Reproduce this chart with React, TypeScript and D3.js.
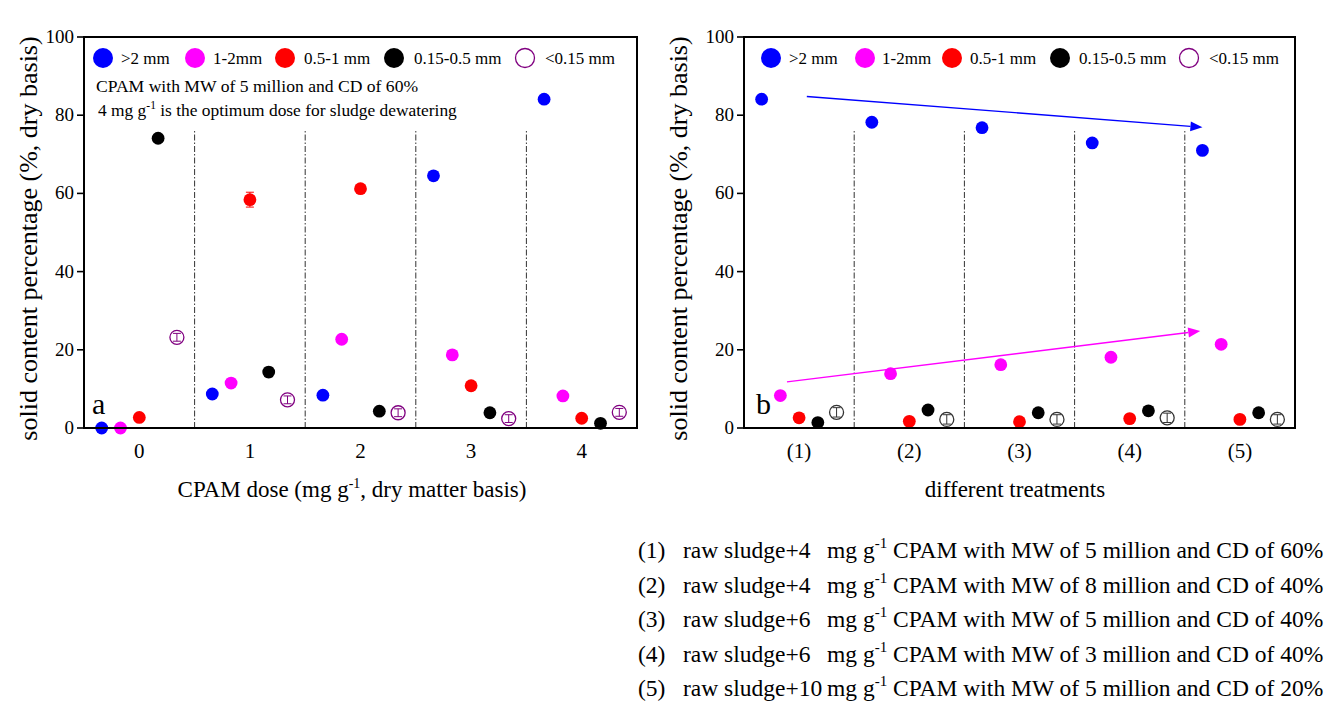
import * as d3 from 'd3'

// particle size classes, shared by both panels
const SIZE_CLASSES = ['>2 mm', '1-2mm', '0.5-1 mm', '0.15-0.5 mm', '<0.15 mm']
const CLASS_COLORS = ['#0000ff', '#ff00ff', '#ff0000', '#000000', '#800080']
const CLASS_OFFSETS = [-0.34, -0.17, 0, 0.17, 0.34]

// panel a: CPAM dose
const DOSES = [0, 1, 2, 3, 4]
const DOSE_VALUES = [
  [0, 8.7, 8.4, 64.5, 84.1],
  [0, 11.5, 22.7, 18.7, 8.2],
  [2.7, 58.4, 61.2, 10.8, 2.5],
  [74.1, 14.3, 4.3, 3.9, 1.2],
  [23.2, 7.2, 3.9, 2.4, 4.0],
]
const DOSE_ERRORS = [
  [0.3, 0.6, 0.5, 0.6, 0.6],
  [0.3, 0.5, 0.6, 0.5, 0.4],
  [0.4, 1.9, 0.8, 0.6, 0.4],
  [0.6, 1.2, 0.6, 0.5, 0.4],
  [1.0, 1.0, 1.0, 1.0, 1.0],
]

// panel b: treatments
const TREATMENTS = ['(1)', '(2)', '(3)', '(4)', '(5)']
const TREATMENT_VALUES = [
  [84.1, 78.2, 76.8, 72.9, 71.0],
  [8.3, 13.9, 16.2, 18.1, 21.4],
  [2.6, 1.7, 1.6, 2.4, 2.2],
  [1.4, 4.6, 3.9, 4.4, 3.9],
  [4.0, 2.2, 2.2, 2.6, 2.2],
]
const TREATMENT_ERRORS = [
  [0.5, 0.6, 0.5, 0.5, 0.5],
  [0.5, 0.5, 0.5, 0.5, 0.5],
  [0.3, 0.3, 0.3, 0.3, 0.3],
  [0.3, 0.4, 0.4, 0.4, 0.4],
  [1.2, 1.2, 1.2, 1.2, 1.2],
]
const TREND_ARROWS = [
  { color: '#0000ff', from: [1.07, 84.8], to: [4.66, 76.9] },
  { color: '#ff00ff', from: [0.89, 11.8], to: [4.64, 24.8] },
]

// footnote for treatments
const TREATMENT_DOSE = ['4', '4', '6', '6', '10']
const TREATMENT_MW = ['5', '8', '5', '3', '5']
const TREATMENT_CD = ['60', '40', '40', '40', '20']

const Y_TICKS = [0, 20, 40, 60, 80, 100]

const FONT = '"Liberation Serif", "Times New Roman", serif'
const TOP = 37
const BOTTOM = 428

function Panel({ left, right, domain, xs, labels, values, errors, openStroke, legendX, letter, letterX, xTitle, xTitleX, yTitleX, arrows, children }) {
  const x = d3.scaleLinear().domain(domain).range([left, right])
  const y = d3.scaleLinear().domain([0, 100]).range([BOTTOM, TOP])
  const seps = d3.pairs(xs).map(([a, b]) => (a + b) / 2)

  return (
    <g fontFamily={FONT}>
      {/* dash-dot group separators */}
      {seps.map((s, i) => (
        <line key={i} x1={x(s)} x2={x(s)} y1={y(0)} y2={y(76)} stroke="#333" strokeWidth={1} strokeDasharray="6,2,1.5,2" />
      ))}

      {/* y ticks */}
      {Y_TICKS.map(t => (
        <g key={t}>
          <line x1={left - 7} x2={left} y1={y(t)} y2={y(t)} stroke="#000" strokeWidth={1.6} />
          <text x={left - 10} y={y(t) + 6} textAnchor="end" fontSize={19}>{t}</text>
        </g>
      ))}
      {labels.map((l, i) => (
        <text key={l} x={x(xs[i])} y={458} textAnchor="middle" fontSize={21}>{l}</text>
      ))}

      {/* points */}
      {SIZE_CLASSES.map((c, k) => (
        <g key={c}>
          {values[k].map((v, i) => {
            const cx = x(xs[i] + CLASS_OFFSETS[k])
            const cy = y(v)
            const e = errors[k][i]
            const col = k === 4 ? openStroke : CLASS_COLORS[k]
            return (
              <g key={i}>
                {k === 4
                  ? <circle cx={cx} cy={cy} r={7} fill="#fff" stroke={col} strokeWidth={1.3} />
                  : <circle cx={cx} cy={cy} r={6.4} fill={col} />}
                <line x1={cx} x2={cx} y1={y(v - e)} y2={y(v + e)} stroke={col} strokeWidth={1} />
                <line x1={cx - 4} x2={cx + 4} y1={y(v + e)} y2={y(v + e)} stroke={col} strokeWidth={1} />
                <line x1={cx - 4} x2={cx + 4} y1={y(v - e)} y2={y(v - e)} stroke={col} strokeWidth={1} />
              </g>
            )
          })}
        </g>
      ))}

      {/* trend arrows */}
      {arrows.map((a, i) => {
        const x1 = x(a.from[0]), y1 = y(a.from[1]), x2 = x(a.to[0]), y2 = y(a.to[1])
        const ang = Math.atan2(y2 - y1, x2 - x1)
        const len = 12, w = 5
        const bx = x2 - len * Math.cos(ang), by = y2 - len * Math.sin(ang)
        const pts = [
          [x2, y2],
          [bx + w * Math.sin(ang), by - w * Math.cos(ang)],
          [bx - w * Math.sin(ang), by + w * Math.cos(ang)],
        ]
        return (
          <g key={i}>
            <line x1={x1} y1={y1} x2={bx} y2={by} stroke={a.color} strokeWidth={1.4} />
            <polygon points={pts.map(p => p.join(',')).join(' ')} fill={a.color} />
          </g>
        )
      })}

      {/* legend */}
      {SIZE_CLASSES.map((c, k) => (
        <g key={c}>
          {k === 4
            ? <circle cx={legendX[k][0]} cy={58} r={9.5} fill="#fff" stroke={CLASS_COLORS[4]} strokeWidth={1.3} />
            : <circle cx={legendX[k][0]} cy={58} r={10} fill={CLASS_COLORS[k]} />}
          <text x={legendX[k][1]} y={64} fontSize={17}>{c}</text>
        </g>
      ))}

      {children}

      <text x={letterX} y={414} fontSize={30}>{letter}</text>

      {/* frame */}
      <rect x={left} y={TOP} width={right - left} height={BOTTOM - TOP} fill="none" stroke="#000" strokeWidth={2} />

      <text transform={`translate(${yTitleX},${(TOP + BOTTOM) / 2 + 6}) rotate(-90)`} textAnchor="middle" fontSize={26}>
        solid content percentage (%, dry basis)
      </text>
      <text x={xTitleX} y={497} textAnchor="middle" fontSize={23}>{xTitle}</text>
    </g>
  )
}

export default function App() {
  return (
    <div style={{ position: 'absolute', left: 0, top: 0 }}>
      <svg width={1338} height={706} style={{ display: 'block', background: '#fff' }}>
        <Panel
          left={84} right={637} domain={[-0.5, 4.5]} xs={DOSES} labels={DOSES.map(String)}
          values={DOSE_VALUES} errors={DOSE_ERRORS} openStroke="#800080"
          legendX={[[103, 121], [195, 213], [285, 304], [394, 414], [525, 545]]}
          letter="a" letterX={92}
          xTitle={<>CPAM dose (mg g<tspan dy={-9} fontSize={14}>-1</tspan><tspan dy={9}>, dry matter basis)</tspan></>}
          xTitleX={352} yTitleX={37} arrows={[]}
        >
          <text x={96} y={92} fontSize={17.6}>CPAM with MW of 5 million and CD of 60%</text>
          <text x={98} y={116} fontSize={17.4}>4 mg g<tspan dy={-7} fontSize={11.5}>-1</tspan><tspan dy={7}> is the optimum dose for sludge dewatering</tspan></text>
        </Panel>
        <Panel
          left={744} right={1295} domain={[0.5, 5.5]} xs={[1, 2, 3, 4, 5]} labels={TREATMENTS}
          values={TREATMENT_VALUES} errors={TREATMENT_ERRORS} openStroke="#333"
          legendX={[[771, 789], [865, 882], [952, 970], [1060, 1079], [1189, 1209]]}
          letter="b" letterX={756}
          xTitle="different treatments" xTitleX={1015} yTitleX={687} arrows={TREND_ARROWS}
        />

        {/* treatment key */}
        <g fontFamily={FONT} fontSize={23.5}>
          {TREATMENTS.map((t, i) => {
            const by = 558 + i * 34.5
            return (
              <g key={t}>
                <text x={638} y={by}>{t}</text>
                <text x={683} y={by}>raw sludge+{TREATMENT_DOSE[i]}</text>
                <text x={827} y={by}>
                  mg g<tspan dy={-10} fontSize={15}>-1</tspan>
                  <tspan dy={10}> CPAM with MW of {TREATMENT_MW[i]} million and CD of {TREATMENT_CD[i]}%</tspan>
                </text>
              </g>
            )
          })}
        </g>
      </svg>
    </div>
  )
}
